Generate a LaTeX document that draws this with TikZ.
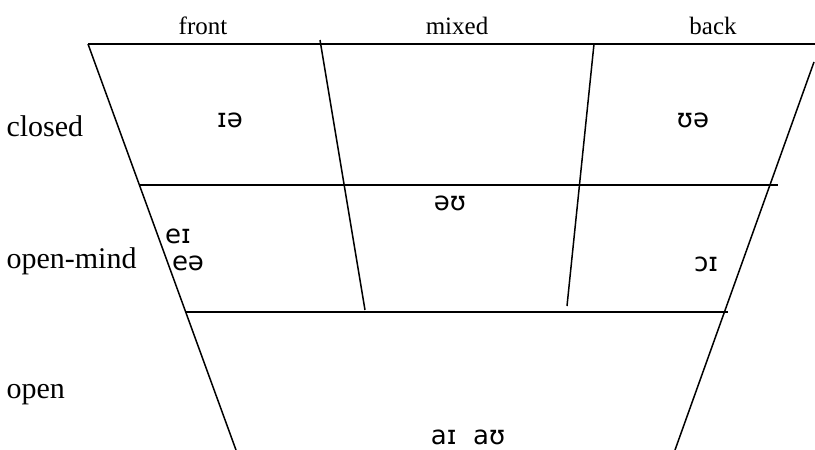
\documentclass[tikz,border=0pt]{standalone}
\usepackage{fontspec}
\setmainfont{Liberation Serif}
\newfontfamily\ipafont{DejaVu Sans}
\usetikzlibrary{calc}
\tikzset{
  column label/.style={font=\fontsize{25}{29}\selectfont},
  row label/.style={font=\fontsize{30}{34}\selectfont, anchor=west},
  vowel node/.style={font=\ipafont\fontsize{26}{30}\selectfont},
  chart line/.style={line width=1.5pt}
}

\begin{document}
\begin{tikzpicture}[x=1pt,y=-1pt]
    \useasboundingbox (0,0) rectangle (815,450);
    % frame corners
    \coordinate (topL) at (88,44);
    \coordinate (topR) at (815,44);
    \coordinate (rightT) at (814,62);
    \coordinate (rightB) at (675,450);
    \coordinate (leftB) at (236,450);
    \coordinate (rowA1) at (139,185);
    \coordinate (rowA2) at (778,185);
    \coordinate (rowB1) at (186,312);
    \coordinate (rowB2) at (728,312);
    \coordinate (colA1) at (320,40);
    \coordinate (colA2) at (365,310);
    \coordinate (colB1) at (594,44);
    \coordinate (colB2) at (567,306);
    \draw[chart line] (topL) -- (topR);
    \draw[chart line] (topL) -- (leftB);
    \draw[chart line] (rightT) -- (rightB);
    \draw[chart line] (rowA1) -- (rowA2);
    \draw[chart line] (rowB1) -- (rowB2);
    \draw[chart line] (colA1) -- (colA2);
    \draw[chart line] (colB1) -- (colB2);
    % labels
    \node[column label] (front) at (203,26) {front};
    \node[column label] (mixed) at (457,26) {mixed};
    \node[column label] (back) at (713,26) {back};
    \node[row label] (closed) at (3,126) {closed};
    \node[row label] (openmid) at (3,261) {open-mind};
    \node[row label] (open) at (3,395) {open};
    % vowels
    \node[vowel node] (ie) at (230,120) {ɪə};
    \node[vowel node] (ue) at (693,120) {ʊə};
    \node[vowel node] (eu) at (450,203) {əʊ};
    \node[vowel node] (ei) at (178,236) {eɪ};
    \node[vowel node] (ee) at (188,263) {eə};
    \node[vowel node] (oi) at (706,264) {ɔɪ};
    \node[vowel node] (aiau) at (468,437) {aɪ~~aʊ};
\end{tikzpicture}
\end{document}
